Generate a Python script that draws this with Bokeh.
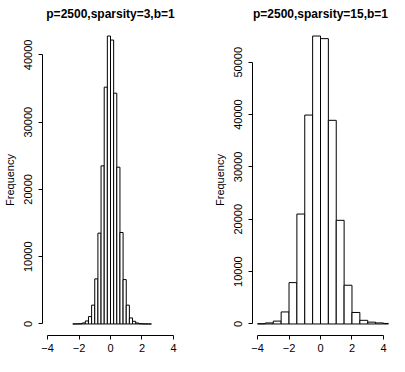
from bokeh.plotting import figure
from bokeh.layouts import row
from bokeh.models import FixedTicker, Range1d
from bokeh.embed import file_html
from bokeh.resources import INLINE

# ---- data ----
left_title = "p=2500,sparsity=3,b=1"
left_breaks = [-2.4, -2.2, -2.0, -1.8, -1.6, -1.4, -1.2, -1.0, -0.8, -0.6, -0.4, -0.2, 0.0,
               0.2, 0.4, 0.6, 0.8, 1.0, 1.2, 1.4, 1.6, 1.8, 2.0, 2.2, 2.4, 2.6]
left_counts = [5, 10, 40, 150, 450, 1100, 2800, 6700, 13500, 23500, 35200, 42800,
               42200, 34300, 23300, 13600, 6600, 2800, 900, 400, 150, 50, 15, 5, 2]

right_title = "p=2500,sparsity=15,b=1"
right_breaks = [-4.0, -3.5, -3.0, -2.5, -2.0, -1.5, -1.0, -0.5, 0.0, 0.5, 1.0, 1.5,
                2.0, 2.5, 3.0, 3.5, 4.0, 4.5]
right_counts = [50, 200, 550, 2300, 7900, 21000, 39900, 55000, 54500, 38900, 19800,
                7400, 2200, 700, 350, 200, 100]

x_ticks = [-4, -2, 0, 2, 4]
x_tick_labels = {-4: "\u22124", -2: "\u22122", 0: "0", 2: "2", 4: "4"}
left_y_ticks = [0, 10000, 20000, 30000, 40000]
right_y_ticks = [0, 10000, 20000, 30000, 40000, 50000]
y_label = "Frequency"

FONT = "Liberation Sans"


def hist_panel(title, breaks, counts, yticks, width, border_left, border_right):
    ymax = max(counts)
    p = figure(width=width, height=356, output_backend="svg", toolbar_location=None,
               x_range=Range1d(-4.32, 4.32),
               y_range=Range1d(-0.04 * ymax, 1.04 * ymax),
               min_border_left=border_left, min_border_right=border_right,
               min_border_top=23, min_border_bottom=21)
    p.title.text = title
    p.title.align = "center"
    p.title.text_font = FONT
    p.title.text_font_size = "12px"
    p.title.text_font_style = "bold"
    p.title.text_color = "black"
    p.title.offset = 0
    p.title.standoff = 8
    p.outline_line_color = None
    p.grid.visible = False
    p.background_fill_color = "white"
    p.border_fill_color = "white"

    p.quad(left=breaks[:-1], right=breaks[1:], bottom=0, top=counts,
           fill_color="white", line_color="black", line_width=1)

    xa = p.xaxis[0]
    xa.ticker = FixedTicker(ticks=x_ticks)
    xa.major_label_overrides = x_tick_labels
    xa.bounds = (x_ticks[0], x_ticks[-1])
    xa.minor_tick_line_color = None
    xa.major_tick_in = 0
    xa.major_tick_out = 4
    xa.major_label_standoff = 4
    xa.major_label_text_font = FONT
    xa.major_label_text_font_size = "11px"
    xa.major_label_text_color = "black"
    xa.axis_line_color = "black"
    xa.major_tick_line_color = "black"

    ya = p.yaxis[0]
    ya.ticker = FixedTicker(ticks=yticks)
    ya.bounds = (yticks[0], yticks[-1])
    ya.minor_tick_line_color = None
    ya.major_tick_in = 0
    ya.major_tick_out = 4
    ya.major_label_standoff = 6
    ya.major_label_orientation = "vertical"
    ya.major_label_text_font = FONT
    ya.major_label_text_font_size = "11px"
    ya.major_label_text_color = "black"
    ya.axis_label = y_label
    ya.axis_label_text_font = FONT
    ya.axis_label_text_font_size = "11px"
    ya.axis_label_text_font_style = "normal"
    ya.axis_label_text_color = "black"
    ya.axis_label_standoff = 6
    ya.axis_line_color = "black"
    ya.major_tick_line_color = "black"
    return p


p1 = hist_panel(left_title, left_breaks, left_counts, left_y_ticks, 196, 42, 18)
p2 = hist_panel(right_title, right_breaks, right_counts, right_y_ticks, 193, 56, 1)

layout = row(p1, p2)
open("out.html", "w").write(file_html(layout, INLINE))
